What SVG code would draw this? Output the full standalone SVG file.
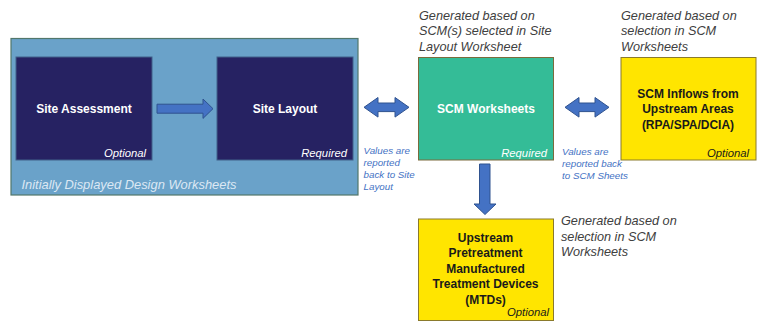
<svg xmlns="http://www.w3.org/2000/svg" width="757" height="323" viewBox="0 0 757 323">
<style>
.b{font-family:"Liberation Sans",Arial,sans-serif;font-weight:bold;font-size:12px;text-anchor:middle}
.tag{font-family:"Liberation Sans",Arial,sans-serif;font-style:italic;font-size:11.3px;text-anchor:end}
.note{font-family:"Liberation Sans",Arial,sans-serif;font-style:italic;font-size:12.7px;fill:#404040}
.val{font-family:"Liberation Sans",Arial,sans-serif;font-style:italic;font-size:9.8px;fill:#4472c4}
.arr{fill:#4472c4;stroke:#2f528f;stroke-width:1}
</style>
<rect width="757" height="323" fill="#ffffff"/>
<g id="container">
<rect x="11" y="38.5" width="347" height="156.5" fill="#6aa2c9" stroke="#52776c" stroke-width="1.2"/>
<text x="21.5" y="188.5" font-family="Liberation Sans,Arial,sans-serif" font-style="italic" font-size="12.9" fill="#dce8f4">Initially Displayed Design Worksheets</text>
</g>
<g id="site-assessment">
<rect x="16" y="57" width="136" height="103" fill="#262262" stroke="#41608a" stroke-width="1"/>
<text class="b" x="84" y="112.5" fill="#ffffff">Site Assessment</text>
<text class="tag" x="146" y="156.5" fill="#ffffff">Optional</text>
</g>
<g id="site-layout">
<rect x="217" y="57" width="136" height="103" fill="#262262" stroke="#41608a" stroke-width="1"/>
<text class="b" x="285" y="112.5" fill="#ffffff">Site Layout</text>
<text class="tag" x="347" y="156.5" fill="#ffffff">Required</text>
</g>
<g id="scm-worksheets">
<text class="note" x="419" y="20">Generated based on</text>
<text class="note" x="419" y="35.3">SCM(s) selected in Site</text>
<text class="note" x="419" y="50.6">Layout Worksheet</text>
<rect x="418.5" y="57.5" width="135" height="102.5" fill="#34bc97" stroke="#7a6b3c" stroke-width="1"/>
<text class="b" x="486" y="112.5" fill="#ffffff">SCM Worksheets</text>
<text class="tag" x="547" y="156.5" fill="#ffffff">Required</text>
</g>
<g id="scm-inflows">
<text class="note" x="621" y="20">Generated based on</text>
<text class="note" x="621" y="35.3">selection in SCM</text>
<text class="note" x="621" y="50.6">Worksheets</text>
<rect x="621" y="57.5" width="135" height="102.5" fill="#ffe500" stroke="#8a7a2c" stroke-width="1"/>
<text class="b" x="688" y="97.5" fill="#1a1a1a">SCM Inflows from</text>
<text class="b" x="688" y="113" fill="#1a1a1a">Upstream Areas</text>
<text class="b" x="688" y="128.5" fill="#1a1a1a">(RPA/SPA/DCIA)</text>
<text class="tag" x="749" y="156.5" fill="#1a1a1a">Optional</text>
</g>
<g id="mtds">
<rect x="418.5" y="219" width="135" height="101.5" fill="#ffe500" stroke="#8a7a2c" stroke-width="1"/>
<text class="b" x="485.5" y="241.5" fill="#1a1a1a">Upstream</text>
<text class="b" x="485.5" y="257" fill="#1a1a1a">Pretreatment</text>
<text class="b" x="485.5" y="272.5" fill="#1a1a1a">Manufactured</text>
<text class="b" x="485.5" y="288" fill="#1a1a1a">Treatment Devices</text>
<text class="b" x="485.5" y="303.5" fill="#1a1a1a">(MTDs)</text>
<text class="tag" x="549" y="316" fill="#1a1a1a">Optional</text>
<text class="note" x="561" y="225">Generated based on</text>
<text class="note" x="561" y="240.5">selection in SCM</text>
<text class="note" x="561" y="256">Worksheets</text>
</g>
<g id="connectors">
<polygon class="arr" points="157,104.2 203,104.2 203,99 213,108.7 203,118.4 203,113.2 157,113.2"/>
<polygon class="arr" points="364,107.3 378,97.5 378,103 395,103 395,97.5 409,107.3 395,117.1 395,111.6 378,111.6 378,117.1"/>
<polygon class="arr" points="565,107.3 579,97.5 579,103 595,103 595,97.5 609,107.3 595,117.1 595,111.6 579,111.6 579,117.1"/>
<polygon class="arr" points="479.5,164 490,164 490,204 496,204 485,214.5 474,204 479.5,204"/>
<text class="val" x="363.5" y="154.3">Values are</text>
<text class="val" x="363.5" y="166.3">reported</text>
<text class="val" x="363.5" y="178.3">back to Site</text>
<text class="val" x="363.5" y="190.3">Layout</text>
<text class="val" x="562" y="155.3">Values are</text>
<text class="val" x="562" y="167.3">reported back</text>
<text class="val" x="562" y="179.3">to SCM Sheets</text>
</g>
</svg>
